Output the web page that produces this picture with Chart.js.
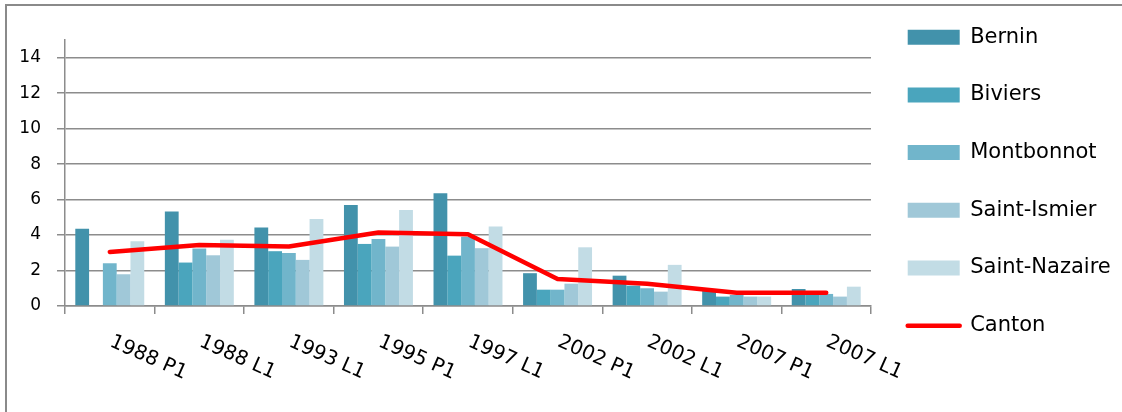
<!DOCTYPE html>
<html>
<head>
<meta charset="utf-8">
<script src="https://cdn.jsdelivr.net/npm/chart.js@4.4.1/dist/chart.umd.min.js"></script>
<style>
html, body { margin: 0; padding: 0; background: #ffffff; overflow: hidden; width: 1122px; height: 412px; }
#frame { position: absolute; left: 5px; top: 4px; width: 1300px; height: 600px; border-left: 2px solid #8a8a8a; border-top: 2px solid #8a8a8a; box-sizing: border-box; }
#c { position: absolute; left: 0; top: -10px; }
</style>
</head>
<body>
<div id="frame"></div>
<canvas id="c" width="1122" height="422"></canvas>
<script>
// ---- data ----
const categories = ['1988 P1', '1988 L1', '1993 L1', '1995 P1', '1997 L1', '2002 P1', '2002 L1', '2007 P1', '2007 L1'];
const bernin       = [4.35, 5.33, 4.42, 5.70, 6.36, 1.85, 1.71, 0.92, 0.96];
const biviers      = [null, 2.45, 3.09, 3.50, 2.84, 0.92, 1.15, 0.53, 0.75];
const montbonnot   = [2.41, 3.24, 2.99, 3.78, 3.91, 0.92, 1.00, 0.62, 0.68];
const saintIsmier  = [1.79, 2.86, 2.60, 3.35, 3.26, 1.26, 0.81, 0.53, 0.53];
const saintNazaire = [3.65, 3.73, 4.91, 5.42, 4.48, 3.31, 2.32, 0.53, 1.09];
const canton       = [3.05, 3.44, 3.35, 4.14, 4.05, 1.52, 1.25, 0.75, 0.75];
const yTicks = [0, 2, 4, 6, 8, 10, 12, 14];

// ---- style ----
const FONT = 'DejaVu Sans';
const GRID = '#8c8c8c';
const colors = ['#4292AB', '#4AA5BD', '#71B5CB', '#A0C8D8', '#C2DCE5'];
const legendPad = 36.7, legendFont = 21, swatchW = 52;

// category scale whose rotated labels start at the tick and run down-right
class RotCat extends Chart.CategoryScale {
  static id = 'rotcat';
  static defaults = {};
  _getXAxisLabelAlignment() { return 'left'; }
}
Chart.register(RotCat);

// right padding so that the plot area ends near x = 870
const mctx = document.createElement('canvas').getContext('2d');
mctx.font = legendFont + 'px ' + FONT;
const longest = Math.max(...['Bernin','Biviers','Montbonnot','Saint-Ismier','Saint-Nazaire','Canton'].map(t => mctx.measureText(t).width));
const legendWidth = legendPad + swatchW + legendFont / 2 + longest;
const padRight = Math.max(0, 1122 - 870 - legendWidth - 11);

const barDs = (label, data, i) => ({
  type: 'bar', label, data,
  backgroundColor: colors[i], borderWidth: 0,
  pointStyle: 'rect', order: 1,
  categoryPercentage: 0.77, barPercentage: 1.0
});

new Chart(document.getElementById('c'), {
  type: 'bar',
  data: {
    labels: categories,
    datasets: [
      barDs('Bernin', bernin, 0),
      barDs('Biviers', biviers, 1),
      barDs('Montbonnot', montbonnot, 2),
      barDs('Saint-Ismier', saintIsmier, 3),
      barDs('Saint-Nazaire', saintNazaire, 4),
      {
        type: 'line', label: 'Canton', data: canton,
        borderColor: '#FF0000', backgroundColor: '#FF0000',
        borderWidth: 4.5, pointRadius: 0, pointHoverRadius: 0,
        pointStyle: 'line', pointBorderWidth: 4.5,
        borderCapStyle: 'round', borderJoinStyle: 'round',
        tension: 0, fill: false, order: 0
      }
    ]
  },
  options: {
    responsive: false,
    animation: false,
    events: [],
    layout: { padding: { left: 0, top: 0, bottom: 0, right: padRight } },
    plugins: {
      tooltip: { enabled: false },
      title: { display: true, text: '', font: { size: 30, lineHeight: 1 }, padding: { top: 10, bottom: 10 } },
      legend: {
        position: 'right',
        align: 'start',
        labels: {
          usePointStyle: true,
          pointStyleWidth: swatchW,
          boxHeight: 15,
          padding: legendPad,
          color: '#000',
          font: { family: FONT, size: legendFont },
          generateLabels(chart) {
            const items = Chart.defaults.plugins.legend.labels.generateLabels(chart);
            items.forEach(it => {
              if (it.text === 'Canton') { it.lineWidth = 4.5; it.lineCap = 'round'; it.strokeStyle = '#FF0000'; }
              else { it.lineWidth = 0; }
            });
            return items.sort((a, b) => a.datasetIndex - b.datasetIndex);
          }
        }
      }
    },
    scales: {
      x: {
        type: 'rotcat',
        offset: true,
        grid: { offset: true, drawOnChartArea: false, drawTicks: true, tickLength: 8, color: GRID, lineWidth: 1.5 },
        border: { display: true, color: GRID, width: 1.5 },
        ticks: {
          autoSkip: false, minRotation: -24, maxRotation: -24,
          padding: 16, labelOffset: 1,
          color: '#000', font: { family: FONT, size: 20 }
        },
        afterFit(s) { s.height = 106; }
      },
      y: {
        min: 0, max: 15,
        grid: { color: GRID, lineWidth: 1.5, tickLength: 8, drawTicks: true },
        border: { display: true, color: GRID, width: 1.5 },
        ticks: { padding: 16, color: '#000', font: { family: FONT, size: 17 } },
        afterBuildTicks(s) { s.ticks = yTicks.map(v => ({ value: v })); },
        afterFit(s) { s.width = 65; }
      }
    }
  }
});
</script>
</body>
</html>
